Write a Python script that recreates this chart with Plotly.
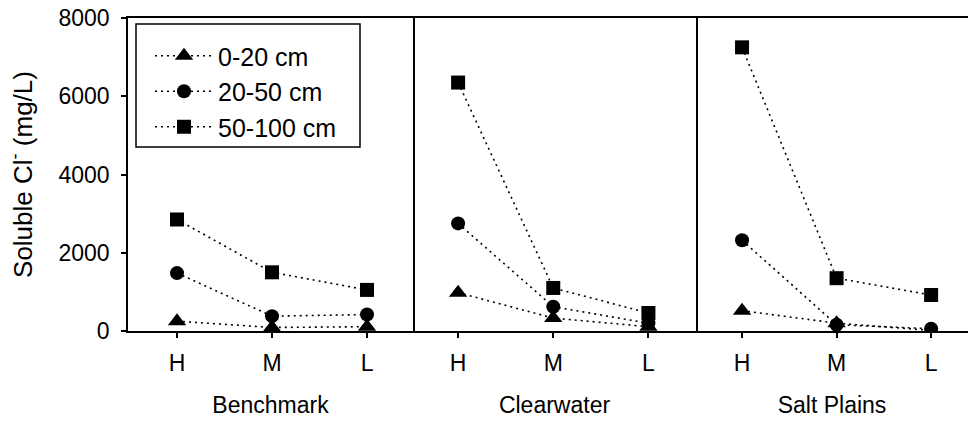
import plotly.graph_objects as go

levels = ["H", "M", "L"]
sites = ["Benchmark", "Clearwater", "Salt Plains"]
series_names = ["0-20 cm", "20-50 cm", "50-100 cm"]

# Soluble Cl- (mg/L) per site, per depth, for H, M, L
benchmark_0_20 = [250, 90, 110]
benchmark_20_50 = [1480, 380, 420]
benchmark_50_100 = [2850, 1500, 1050]

clearwater_0_20 = [980, 330, 110]
clearwater_20_50 = [2750, 620, 200]
clearwater_50_100 = [6350, 1100, 460]

saltplains_0_20 = [520, 200, 15]
saltplains_20_50 = [2320, 160, 60]
saltplains_50_100 = [7250, 1350, 920]

y_ticks = [0, 2000, 4000, 6000, 8000]

data = {
    "Benchmark": [benchmark_0_20, benchmark_20_50, benchmark_50_100],
    "Clearwater": [clearwater_0_20, clearwater_20_50, clearwater_50_100],
    "Salt Plains": [saltplains_0_20, saltplains_20_50, saltplains_50_100],
}

FONT = "Liberation Sans, Arial, sans-serif"
symbols = ["triangle-up", "circle", "square"]
sizes = [16, 14, 14]

W, H = 968, 428
ml, mr, mt, mb = 128, 0, 18, 97
pw = W - ml - mr
ph = H - mt - mb

def px_x(p):
    return (p - ml) / pw

def px_y(p):
    return (H - mb - p) / ph

domains = [(0, px_x(413)), (px_x(413), px_x(696)), (px_x(696), 1.0)]
xranges = [[-0.516, 2.484], [-0.474, 2.5], [-0.487, 2.39]]

fig = go.Figure()
for si, site in enumerate(sites):
    ax = "" if si == 0 else str(si + 1)
    for k in range(3):
        fig.add_trace(go.Scatter(
            x=levels, y=data[site][k], mode="lines+markers",
            name=series_names[k], legendgroup=series_names[k],
            showlegend=(si == 0),
            line=dict(color="black", width=1.6, dash="2px,4px"),
            marker=dict(symbol=symbols[k], size=sizes[k], color="black"),
            xaxis="x" + ax, yaxis="y" + ax,
        ))

layout = dict(
    width=W, height=H,
    margin=dict(l=ml, r=mr, t=mt, b=mb),
    paper_bgcolor="white", plot_bgcolor="white",
    font=dict(family=FONT, size=23, color="black"),
    showlegend=True,
    legend=dict(x=px_x(150), y=px_y(33), xanchor="left", yanchor="top",
                bgcolor="rgba(0,0,0,0)", borderwidth=0,
                font=dict(size=25, family=FONT), tracegroupgap=0,
                itemwidth=58),
    shapes=[dict(type="rect", xref="paper", yref="paper",
                 x0=px_x(136), x1=px_x(360), y0=px_y(147), y1=px_y(24),
                 line=dict(color="black", width=1.5), fillcolor="rgba(0,0,0,0)")],
)

for si, site in enumerate(sites):
    ax = "" if si == 0 else str(si + 1)
    layout["xaxis" + ax] = dict(
        domain=list(domains[si]), range=xranges[si], type="category",
        anchor="y" + ax, showline=True, linecolor="black", linewidth=1.5,
        mirror=True, ticks="outside", ticklen=5, tickwidth=1.5, tickcolor="black",
        showgrid=False, zeroline=False, ticklabelstandoff=6,
        tickfont=dict(size=23, family=FONT),
        title=dict(text=site, font=dict(size=23, family=FONT), standoff=22),
    )
    ydef = dict(
        domain=[0, 1], range=[0, 8000], anchor="x" + ax,
        linecolor="black", linewidth=1.5, showgrid=False, zeroline=False,
    )
    if si == 0:
        ydef.update(showline=True, mirror=True,
                    ticks="outside", ticklen=5, tickwidth=1.5, tickcolor="black",
                    tickvals=y_ticks, ticklabelstandoff=7,
                    tickfont=dict(size=23, family=FONT),
                    title=dict(text="Soluble Cl<sup>-</sup> (mg/L)",
                               font=dict(size=26, family=FONT), standoff=18))
    elif si == 1:
        ydef.update(showline=True, mirror=False, side="right",
                    showticklabels=False, ticks="", matches="y")
    else:
        ydef.update(showline=False, showticklabels=False, ticks="", matches="y")
    layout["yaxis" + ax] = ydef

fig.update_layout(**layout)
fig.write_html("out.html")
